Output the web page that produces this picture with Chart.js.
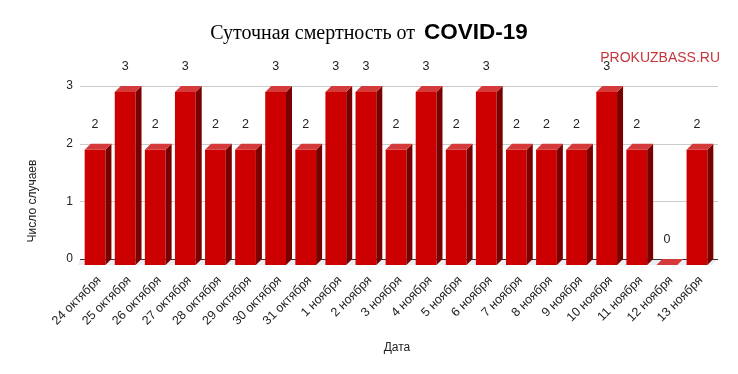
<!DOCTYPE html>
<html>
<head>
<meta charset="utf-8">
<script src="https://cdn.jsdelivr.net/npm/chart.js@4/dist/chart.umd.min.js"></script>
<style>
html,body{margin:0;padding:0;background:#fff;}
#wrap{width:738px;height:374px;position:relative;}
</style>
</head>
<body>
<div id="wrap"><canvas id="c" width="738" height="374"></canvas></div>
<script>
const categories = ["24 октября","25 октября","26 октября","27 октября","28 октября","29 октября","30 октября","31 октября","1 ноября","2 ноября","3 ноября","4 ноября","5 ноября","6 ноября","7 ноября","8 ноября","9 ноября","10 ноября","11 ноября","12 ноября","13 ноября"];
const deaths = [2,3,2,3,2,2,3,2,3,3,2,3,2,3,2,2,2,3,2,0,2];
const yTicks = [0,1,2,3];
const titleSerif = "Суточная смертность от ";
const titleBold = "COVID-19";
const watermark = "PROKUZBASS.RU";
const yTitle = "Число случаев";
const xTitle = "Дата";

const D = 6; // 3D depth

const bar3d = {
  id: 'bar3d',
  beforeDatasetsDraw(chart) {
    const ctx = chart.ctx, ys = chart.scales.y, a = chart.chartArea;
    ctx.save();
    const y0 = ys.getPixelForValue(0);
    ctx.fillStyle = '#e8eef1';
    ctx.beginPath();
    ctx.moveTo(a.left, y0);
    ctx.lineTo(a.right + D, y0);
    ctx.lineTo(a.right, y0 + D);
    ctx.lineTo(a.left - D + 4, y0 + D);
    ctx.closePath();
    ctx.fill();
    yTicks.forEach(v => {
      const y = Math.round(ys.getPixelForValue(v)) + 0.5;
      ctx.strokeStyle = v === 0 ? '#333333' : '#cccccc';
      ctx.lineWidth = 1;
      ctx.beginPath();
      ctx.moveTo(a.left, y);
      ctx.lineTo(a.right + D, y);
      ctx.stroke();
    });
    ctx.restore();
  },
  afterDatasetsDraw(chart) {
    const ctx = chart.ctx, ys = chart.scales.y;
    const meta = chart.getDatasetMeta(0);
    const y0 = ys.getPixelForValue(0);
    ctx.save();
    meta.data.forEach((el, i) => {
      const w = el.width, x = el.x, yt = el.y;
      const l = x - w / 2, r = x + w / 2;
      ctx.fillStyle = '#cc0000';
      if (y0 - yt > 0.5) ctx.fillRect(l, yt + D, w, y0 - yt);
      ctx.fillStyle = '#7a0000';
      if (y0 - yt > 0.5) {
        ctx.beginPath();
        ctx.moveTo(r, yt + D);
        ctx.lineTo(r + D, yt);
        ctx.lineTo(r + D, y0);
        ctx.lineTo(r, y0 + D);
        ctx.closePath();
        ctx.fill();
      }
      ctx.fillStyle = '#d43a3a';
      ctx.beginPath();
      ctx.moveTo(l, yt + D);
      ctx.lineTo(r, yt + D);
      ctx.lineTo(r + D, yt);
      ctx.lineTo(l + D, yt);
      ctx.closePath();
      ctx.fill();
      ctx.fillStyle = '#222222';
      ctx.font = '12.5px "Liberation Sans", Arial, sans-serif';
      ctx.textAlign = 'center';
      ctx.textBaseline = 'middle';
      ctx.fillText(String(deaths[i]), x, yt - 19);
    });
    ctx.restore();
  },
  afterDraw(chart) {
    const ctx = chart.ctx;
    ctx.save();
    ctx.textBaseline = 'alphabetic';
    ctx.textAlign = 'left';
    const f1 = '20px "Liberation Serif", "Times New Roman", serif';
    const f2 = 'bold 22.5px "Liberation Sans", Arial, sans-serif';
    ctx.font = f1; const w1 = ctx.measureText(titleSerif).width + 4;
    ctx.font = f2; const w2 = ctx.measureText(titleBold).width;
    let tx = 369 - (w1 + w2) / 2;
    ctx.fillStyle = '#000000';
    ctx.font = f1; ctx.fillText(titleSerif, tx, 39);
    ctx.font = f2; ctx.fillText(titleBold, tx + w1, 39);
    ctx.fillStyle = '#c8353a';
    ctx.font = '14px "Liberation Sans", Arial, sans-serif';
    ctx.textAlign = 'right';
    ctx.textBaseline = 'middle';
    ctx.fillText(watermark, 720, 58);
    ctx.fillStyle = '#222222';
    ctx.font = '12px "Liberation Sans", Arial, sans-serif';
    ctx.textAlign = 'center';
    ctx.fillText(xTitle, 397, 348);
    ctx.translate(33, 201);
    ctx.rotate(-Math.PI / 2);
    ctx.fillText(yTitle, 0, 0);
    ctx.restore();
  }
};

new Chart(document.getElementById('c'), {
  type: 'bar',
  data: {
    labels: categories,
    datasets: [{
      data: deaths,
      backgroundColor: 'rgba(0,0,0,0)',
      borderWidth: 0,
      barPercentage: 0.69,
      categoryPercentage: 1.0
    }]
  },
  options: {
    responsive: false,
    animation: false,
    layout: { padding: { top: 86, right: 26, left: 0, bottom: 0 } },
    plugins: { legend: { display: false }, tooltip: { enabled: false }, title: { display: false } },
    scales: {
      x: {
        grid: { display: false, drawTicks: false },
        border: { display: false },
        ticks: {
          minRotation: 45, maxRotation: 45, autoSkip: false,
          padding: 14,
          labelOffset: 4,
          color: '#222222',
          font: { size: 12.5, family: '"Liberation Sans", Arial, sans-serif' }
        },
        afterFit(s) { s.height = 374 - 259; }
      },
      y: {
        min: 0, max: 3,
        grid: { display: false, drawTicks: false },
        border: { display: false },
        afterBuildTicks(s) { s.ticks = yTicks.map(v => ({ value: v })); },
        ticks: {
          padding: 7,
          color: '#222222',
          font: { size: 12, family: '"Liberation Sans", Arial, sans-serif' }
        },
        afterFit(s) { s.width = 80; }
      }
    }
  },
  plugins: [bar3d]
});
</script>
</body>
</html>
